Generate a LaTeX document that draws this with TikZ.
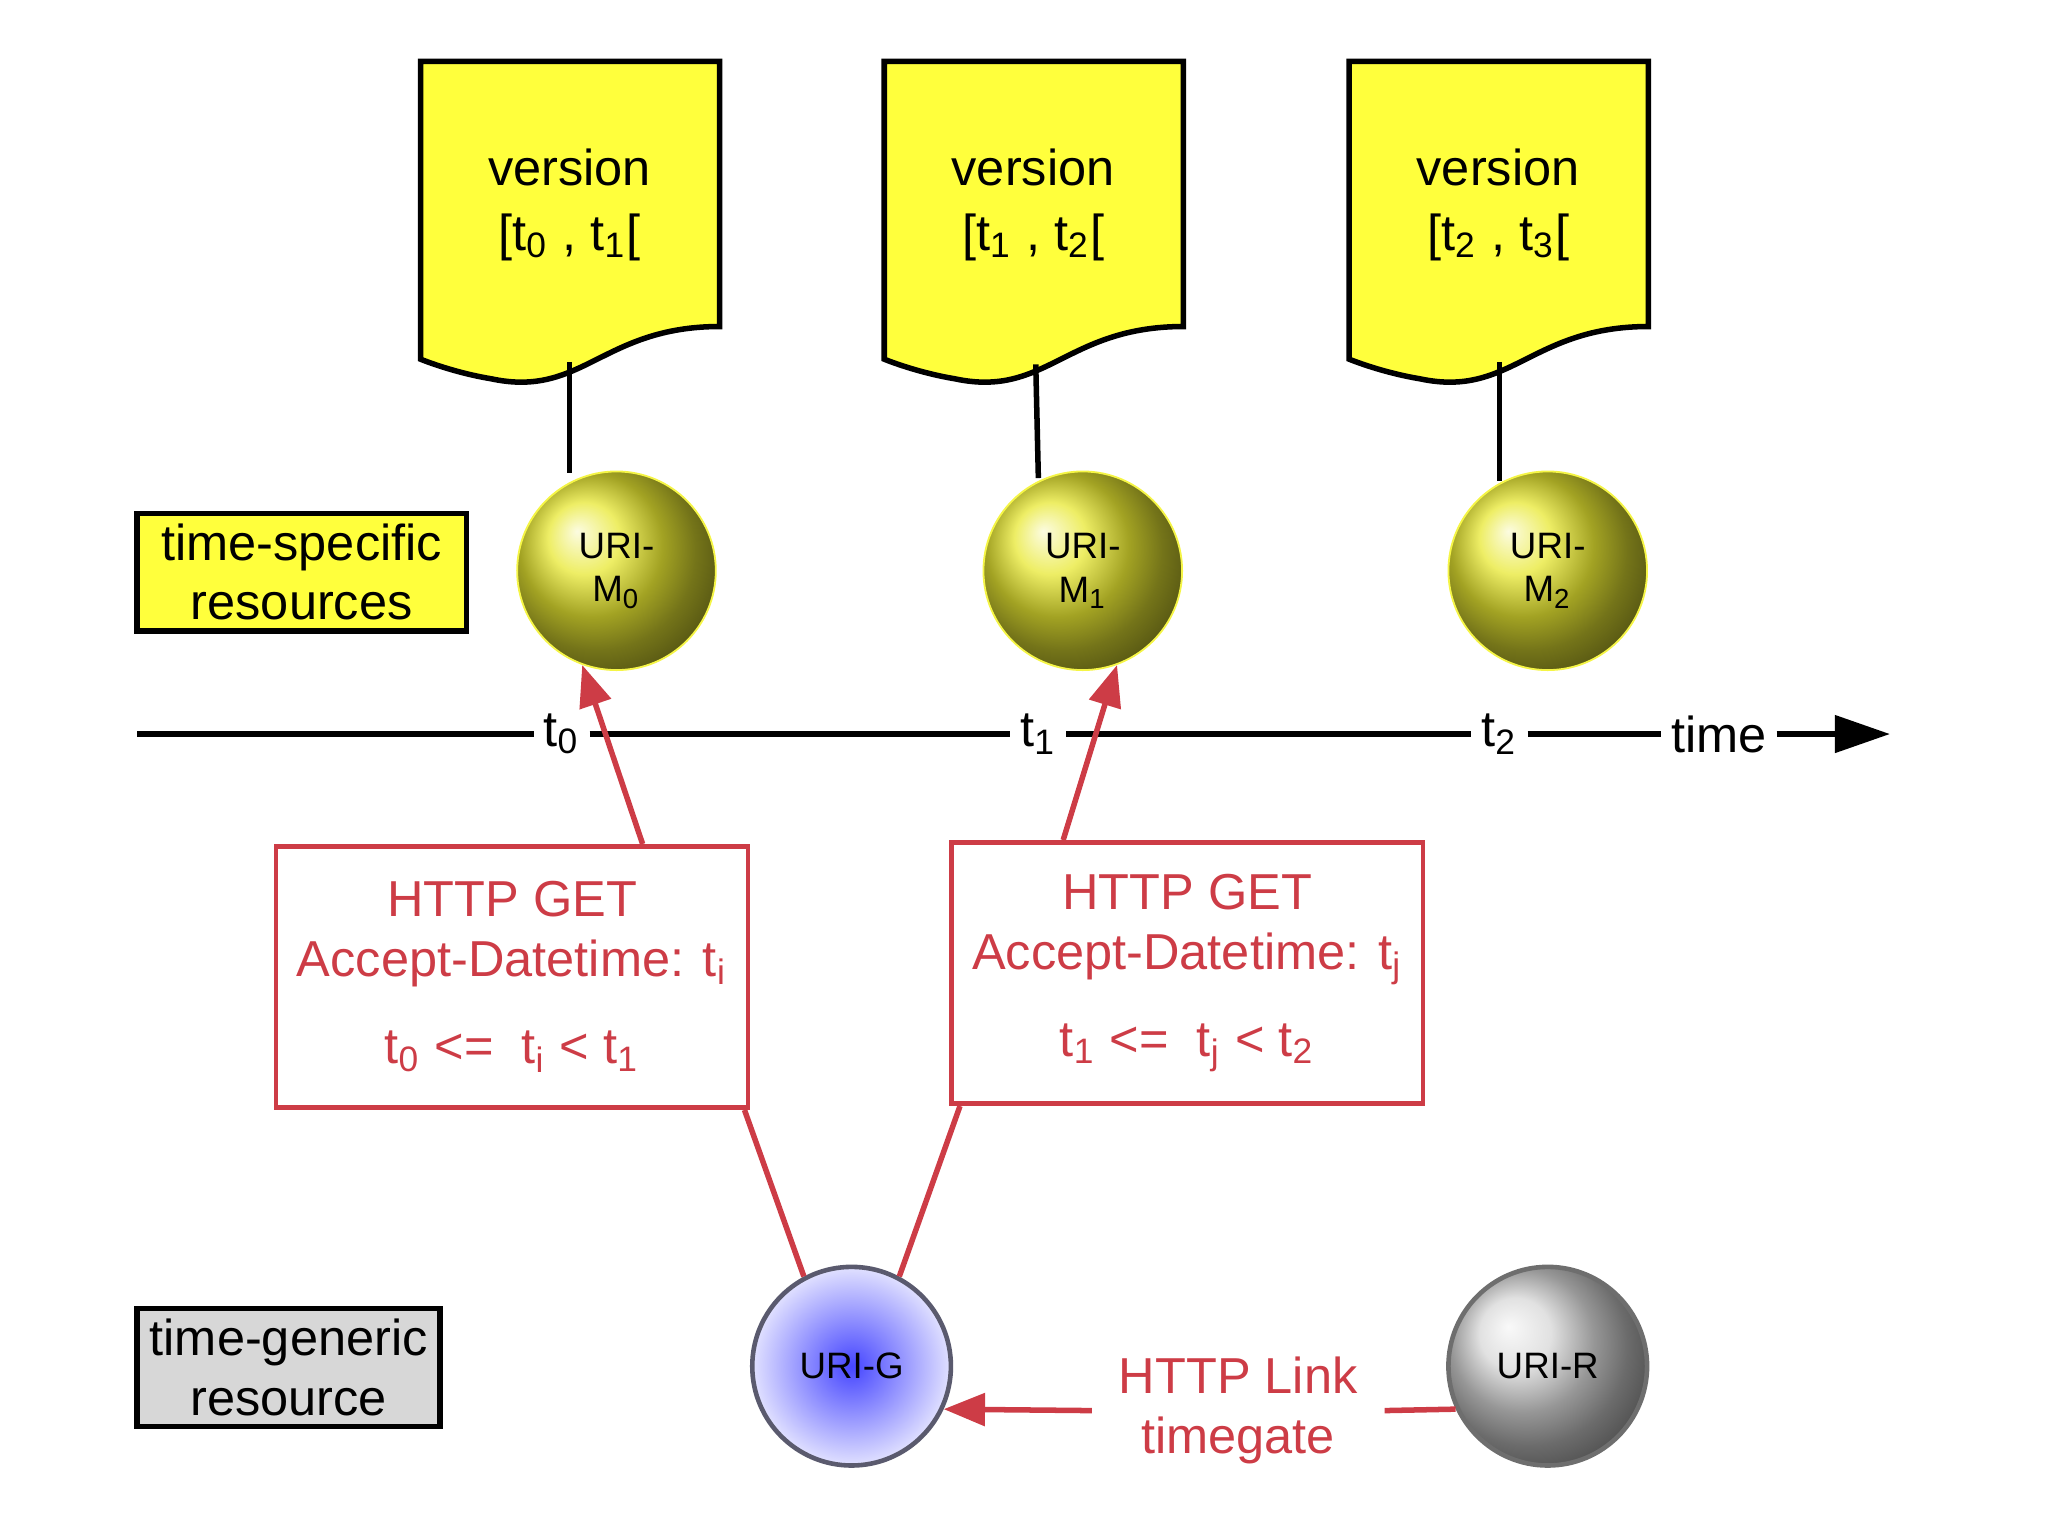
\documentclass[tikz,border=0pt]{standalone}
\usepackage{fontspec}
\setmainfont{Liberation Sans}
\usetikzlibrary{arrows.meta,calc}
\definecolor{hred}{RGB}{205,60,70}
\definecolor{dyel}{RGB}{255,255,60}
\newcommand{\sbs}[1]{\textsubscript{#1}}
\begin{document}
\begin{tikzpicture}[x=0.01cm,y=-0.01cm,
  doc/.style={draw=black,line width=1.2pt,fill=dyel},
  lbl/.style={draw=black,line width=1.2pt,font=\fontsize{11}{13}\selectfont,align=center,inner sep=0pt},
  ball/.style={circle,minimum size=1.52cm,inner sep=0pt,font=\fontsize{8}{9.5}\selectfont,align=center},
  mball/.style={ball,shading=ball,ball color={rgb,255:red,232;green,232;blue,50},draw={rgb,255:red,245;green,245;blue,70}},
  req/.style={draw=hred,line width=1pt,text=hred,align=center,font=\fontsize{11}{13}\selectfont,inner sep=0pt,minimum width=3.61cm,minimum height=2cm},
  rl/.style={hred,line width=1.2pt},
  ra/.style={hred,line width=1.2pt,-{Triangle[length=9pt,width=7pt]}},
  tl/.style={font=\fontsize{11}{13}\selectfont,inner sep=2pt}]
\useasboundingbox (0,0) rectangle (1568,1176);
% documents
\foreach \x/\a/\b/\n in {322/0/1/0,677/1/2/1,1033/2/3/2}{
  \draw[doc] (\x,47) -- ++(229,0) -- ++(0,203) .. controls +(-90,0) and +(70,15) .. ++(-175,40) .. controls +(-30,-5) and +(0,0) .. ++(-54,-15) -- cycle;
  \node[font=\fontsize{11}{14}\selectfont,align=center] (v\n) at (\x+114,157) {version\\{}[t\sbs{\a} , t\sbs{\b}[};
}
% circles
\node[mball] (m0) at (472,437) {URI-\\M\sbs{0}};
\node[mball] (m1) at (829,437) {URI-\\M\sbs{1}};
\node[mball] (m2) at (1185,437) {URI-\\M\sbs{2}};
\coordinate (d0) at (436,277); \coordinate (d1) at (793,279); \coordinate (d2) at (1148,277);
\draw[line width=1.2pt] (d0) -- (436,362);
\draw[line width=1.2pt] (d1) -- (795,366);
\draw[line width=1.2pt] (d2) -- (1148,368);
% labels
\node[lbl,fill=dyel,minimum width=2.52cm,minimum height=0.9cm] (ts) at (231,438) {time-specific\\resources};
\node[lbl,fill={rgb,255:red,215;green,215;blue,215},minimum width=2.32cm,minimum height=0.9cm] (tg) at (221,1047) {time-generic\\resource};
% timeline
\coordinate (tla) at (105,562);
\node[tl] (t0) at (430,562) {t\sbs{0}};
\node[tl] (t1) at (795,562) {t\sbs{1}};
\node[tl] (t2) at (1148,562) {t\sbs{2}};
\node[tl] (tm) at (1316,562) {time};
\coordinate (tlb) at (1447,562);
\draw[line width=1.2pt] (tla) -- (t0);
\draw[line width=1.2pt] (t0) -- (t1);
\draw[line width=1.2pt] (t1) -- (t2);
\draw[line width=1.2pt] (t2) -- (tm);
\draw[line width=1.2pt,-{Triangle[length=12pt,width=8pt]}] (tm) -- (tlb);
% requests
\node[req] (b1) at (392,748) {HTTP GET\\Accept-Datetime: t\sbs{i}\\[6pt]t\sbs{0} <=\ \ t\sbs{i} < t\sbs{1}};
\node[req] (b2) at (909,745) {HTTP GET\\Accept-Datetime: t\sbs{j}\\[6pt]t\sbs{1} <=\ \ t\sbs{j} < t\sbs{2}};
\draw[ra] ($(b1.north)+(100,0)$) -- (m0.250);
\draw[ra] ($(b2.north)+(-95,0)$) -- (m1.290);
% generic
\node[ball,draw={rgb,255:red,90;green,90;blue,110},line width=1pt,shading=radial,inner color={rgb,255:red,70;green,70;blue,255},outer color={rgb,255:red,225;green,225;blue,255}] (g) at (652,1046) {URI-G};
\node[ball,shading=ball,ball color={rgb,255:red,215;green,215;blue,215},draw={rgb,255:red,110;green,110;blue,110},line width=1pt] (r) at (1185,1046) {URI-R};
\draw[rl] ($(b1.south)+(178,0)$) -- (g.118);
\draw[rl] ($(b2.south)+(-174,0)$) -- (g.62);
\node[tl,text=hred,align=center,inner sep=0pt] (hl) at (948,1080) {HTTP Link\\timegate};
\draw[rl] (r.205) -- ($(hl.east)+(20,0)$);
\draw[ra] ($(hl.west)+(-20,0)$) -- (g.-25);
\end{tikzpicture}
\end{document}
